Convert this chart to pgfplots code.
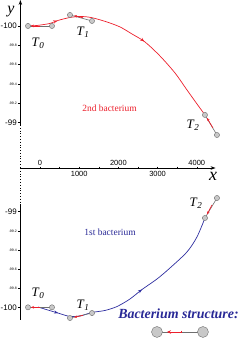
\documentclass[border=0pt]{standalone}
\usepackage{fontspec}
\setmainfont{Liberation Serif}
\setsansfont{Liberation Sans}
\usepackage{pgfplots}
\pgfplotsset{compat=1.18}
\usetikzlibrary{arrows.meta,decorations.markings}
\definecolor{trajred}{RGB}{236,32,44}
\definecolor{trajblue}{RGB}{46,46,160}
\definecolor{txtblue}{RGB}{40,40,150}
\definecolor{cellfill}{RGB}{200,200,200}
\definecolor{celldraw}{RGB}{110,110,110}
\newcommand\Tlab[1]{\fontsize{13}{13}\selectfont\textit{T}\textsubscript{\textit{#1}}}
\pgfplotsset{
  common/.style={
    scale only axis, width=203.8bp, xmin=-500, xmax=4700, clip=false,
    axis y line=left, y axis line style={draw=none},
    ytick={-100,-99.8,-99.6,-99.4,-99.2,-99},
    yticklabels={{\fontsize{8}{8}\selectfont -100},{\fontsize{3.5}{3.5}\selectfont -99.8},{\fontsize{3.5}{3.5}\selectfont -99.6},{\fontsize{3.5}{3.5}\selectfont -99.4},{\fontsize{3.5}{3.5}\selectfont -99.2},{\fontsize{8}{8}\selectfont -99}},
    yticklabel style={font=\sffamily, inner sep=1bp},
    tick align=outside, major tick length=2.5bp, minor tick length=2.5bp,
    tick style={black, line width=0.5bp},
  },
  cell/.style={celldraw, line width=0.6bp, mark=*, mark size=2.6bp,
    mark options={fill=cellfill, draw=celldraw, line width=0.4bp}},
  dirarrow/.style={trajred, line width=0.7bp, -{Stealth[length=3bp,width=2.6bp]}},
  arrowmarks/.style 2 args={postaction={decorate}, decoration={markings,
    mark=at position #1 with {\arrow{Stealth[length=4bp,width=3.2bp]}},
    mark=at position #2 with {\arrow{Stealth[length=4bp,width=3.2bp]}}}},
}
\begin{document}
\begin{tikzpicture}
\useasboundingbox (0,0) rectangle (245bp,338bp);
% upper: 2nd bacterium
\begin{axis}[common, at={(20.4bp,170bp)}, anchor=south west, height=168bp,
  y dir=reverse, ymin=-100.269, ymax=-98.528, axis x line=none]
\addplot[trajred, line width=0.7bp, smooth, arrowmarks={30bp}{123bp}] coordinates {
(-306,-100.000) (-77,-100.005) (255,-100.026) (459,-100.057) (765,-100.088)
(1020,-100.098) (1224,-100.093) (1403,-100.078) (1709,-100.041) (2041,-99.990)
(2347,-99.917) (2679,-99.834) (3061,-99.689) (3444,-99.513) (3750,-99.337)
(4005,-99.192) (4209,-99.078)};
\addplot[cell] coordinates {(-306,-100) (306,-100)};
\addplot[dirarrow] coordinates {(0,-100) (-230,-100)};
\addplot[cell] coordinates {(765,-100.114) (1327,-100.052)};
\addplot[dirarrow] coordinates {(1097,-100.085) (867,-100.106)};
\addplot[cell] coordinates {(4209,-99.078) (4515,-98.870)};
\addplot[dirarrow] coordinates {(4413,-98.943) (4260,-99.047)};
\draw[line width=0.8bp, -{Stealth[length=5bp,width=3.5bp]}] (axis cs:-500,-98.974) -- (axis cs:-500,-100.269);
\draw[line width=0.8bp, dotted] (axis cs:-500,-98.974) -- (axis cs:-500,-98.528);
\end{axis}
% lower: 1st bacterium
\begin{axis}[common, at={(20.4bp,0bp)}, anchor=south west, height=170bp,
  ymin=-100.321, ymax=-98.543, axis x line=top, x axis line style={draw=none},
  xtick={0,2000,4000}, xticklabels={0,2000,4000},
  minor xtick={500,1500,2500,3500},
  extra x ticks={1000,3000}, extra x tick labels={1000,3000},
  extra x tick style={xticklabel style={yshift=-11.5bp}},
  xticklabel style={font=\sffamily\fontsize{7.5}{7.5}\selectfont, inner sep=1bp, anchor=south}]
\addplot[trajblue, line width=0.7bp, smooth, arrowmarks={21bp}{112bp}] coordinates {
(-51,-99.997) (459,-100.060) (765,-100.096) (1020,-100.091) (1327,-100.054)
(1658,-100.033) (1964,-99.992) (2296,-99.913) (2602,-99.814) (2985,-99.704)
(3316,-99.589) (3750,-99.421) (4005,-99.264) (4209,-99.066)};
\addplot[cell] coordinates {(-306,-100) (306,-100)};
\addplot[dirarrow] coordinates {(0,-100) (-230,-100)};
\addplot[cell] coordinates {(765,-100.112) (1327,-100.060)};
\addplot[dirarrow] coordinates {(1097,-100.084) (867,-100.105)};
\addplot[cell] coordinates {(4209,-99.066) (4515,-98.857)};
\addplot[dirarrow] coordinates {(4388,-98.930) (4260,-99.029)};
% structure legend
\addplot[cell, mark size=5.5bp] coordinates {(2985,-100.258) (4158,-100.258)};
\addplot[dirarrow, {Bar[width=2.5bp]}-{Stealth[length=4bp,width=3.5bp]}] coordinates {(3622,-100.258) (3240,-100.258)};
\draw[line width=0.8bp, dotted] (axis cs:-500,-98.543) -- (axis cs:-500,-98.930);
\draw[line width=0.8bp] (axis cs:-500,-98.930) -- (axis cs:-500,-100.133);
\draw[line width=0.8bp, -{Stealth[length=5bp,width=3.5bp]}] (axis cs:-500,-98.543) -- (axis cs:4480,-98.543);
\end{axis}
% texts
\node[inner sep=0pt] at (11bp,326bp) {\fontsize{16}{16}\selectfont\textit{y}};
\node[inner sep=0pt] at (213bp,162bp) {\fontsize{18}{18}\selectfont\textit{x}};
\node at (38bp,295bp) {\Tlab{0}};
\node at (83bp,306bp) {\Tlab{1}};
\node at (193bp,213bp) {\Tlab{2}};
\node at (38bp,45bp) {\Tlab{0}};
\node at (83bp,33bp) {\Tlab{1}};
\node at (196bp,135bp) {\Tlab{2}};
\node[trajred] at (109.5bp,230bp) {\fontsize{9.5}{9.5}\selectfont 2nd bacterium};
\node[txtblue] at (110bp,106bp) {\fontsize{9.5}{9.5}\selectfont 1st bacterium};
\node[txtblue] at (178.5bp,24bp) {\fontsize{14}{14}\selectfont\bfseries\itshape Bacterium structure:};
\end{tikzpicture}
\end{document}
